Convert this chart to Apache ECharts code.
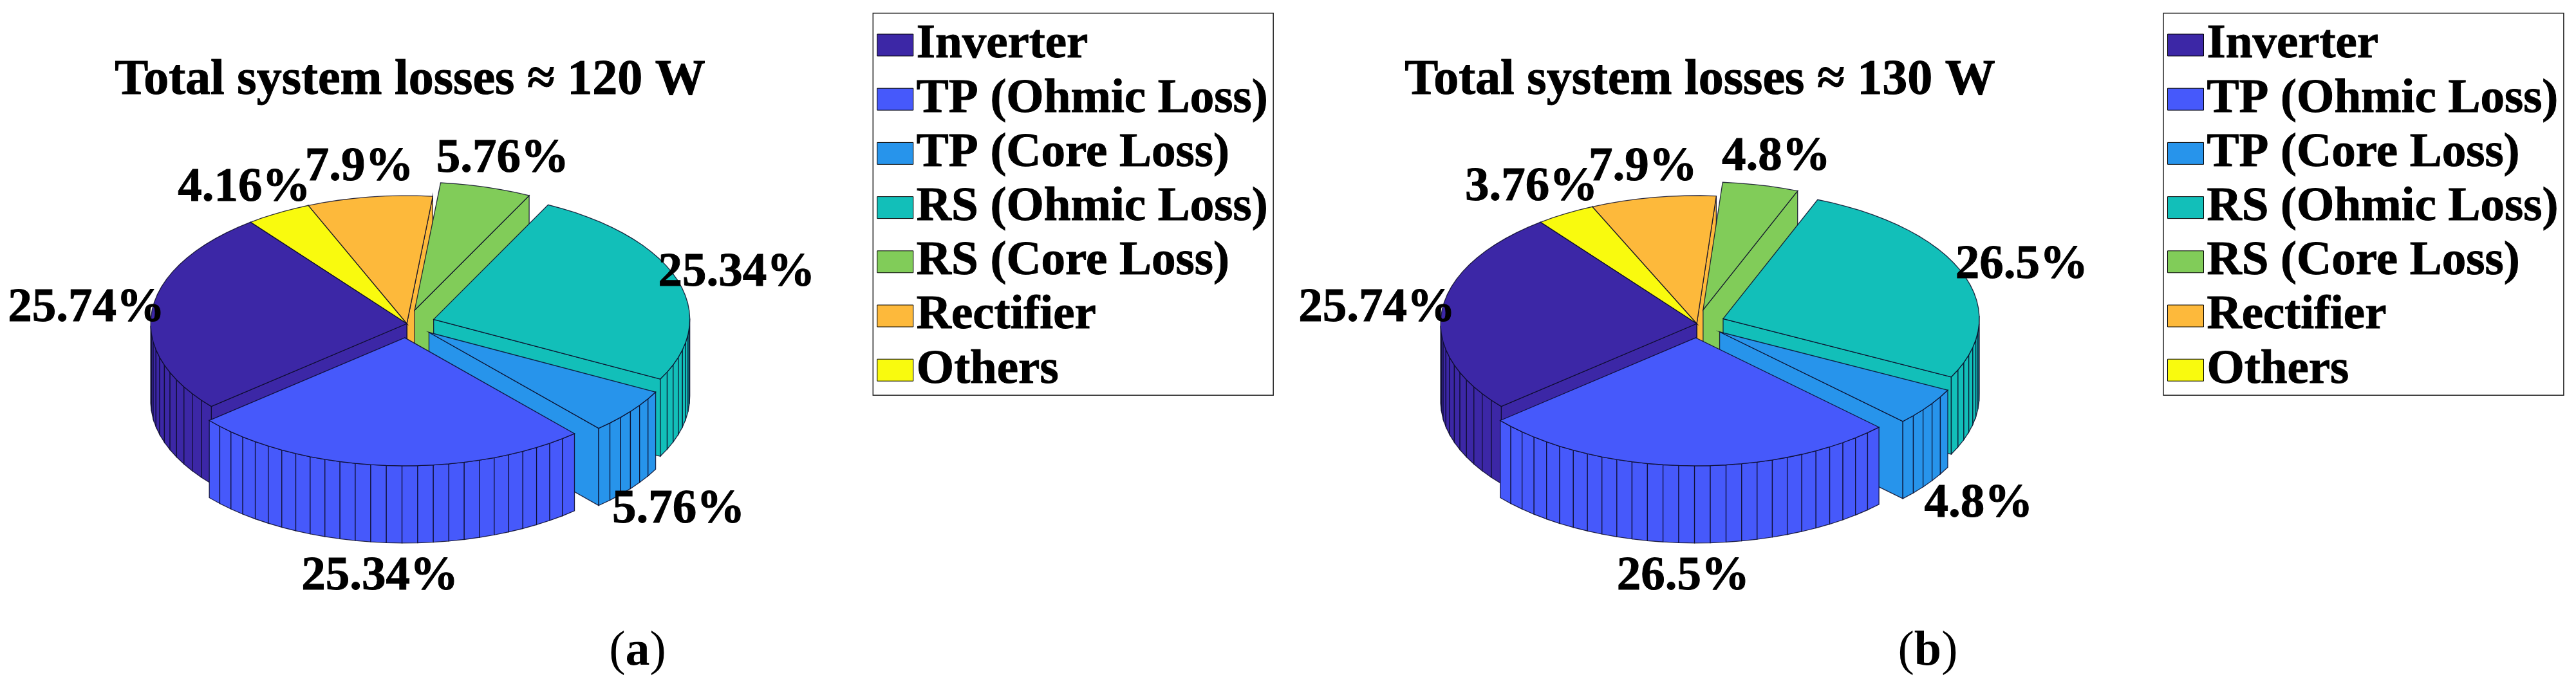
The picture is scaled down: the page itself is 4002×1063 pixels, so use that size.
<!DOCTYPE html>
<html>
<head>
<meta charset="utf-8">
<style>html,body{margin:0;padding:0;background:#fff}#c{width:4002px;height:1063px}</style>
<script src="https://cdn.jsdelivr.net/npm/echarts@6/dist/echarts.min.js"></script>
</head>
<body>
<div id="c"></div>
<script>
const categories = ['Inverter','TP (Ohmic Loss)','TP (Core Loss)','RS (Ohmic Loss)','RS (Core Loss)','Rectifier','Others'];
const valuesA = [25.74,25.34,5.76,25.34,5.76,7.9,4.16];
const valuesB = [25.74,26.5,4.8,26.5,4.8,7.9,3.76];
const exploded = [0,1,1,1,1,0,0];
const colors = ['#3C27A6','#4659FB','#2794EB','#12BFB9','#81CC59','#FDB93B','#F9FA0E'];
const titleA = 'Total system losses \u2248 120 W';
const titleB = 'Total system losses \u2248 130 W';

// painter's order of the slices, back to front
const drawOrder = [5,6,4,3,0,2,1];
const START_DEG = 127.6, EXPLODE = 0.11, WALL = 120/199, LABEL_R = 1.2;
const SERIF = '"Liberation Serif","Times New Roman",serif';
const LABEL_NUDGE_A = [[-23,2],[-4.5,134],[12,129],[16,1],[3.5,-5],[-4,-6],[-13,-4]];
const LABEL_NUDGE_B = [[-22,2],[-2.5,133.5],[14.5,129],[17,2],[6,-4],[-2,-7],[-12,-6]];

function sliceAngles(vals){
  const total = vals.reduce((a,b)=>a+b,0);
  let t = START_DEG, out = [];
  vals.forEach(v=>{
    const sweep = v/total*360;
    out.push({t0:t, t1:t+sweep, mid:t+sweep/2, facets:Math.max(1,Math.ceil(100*v/total - 1e-9))});
    t += sweep;
  });
  return out;
}
const rad = d=>d*Math.PI/180;

function makeSliceRender(vals, idx){
  const a = sliceAngles(vals)[idx];
  return function(params, api){
    const off = exploded[idx] ? EXPLODE : 0;
    const ox = off*Math.cos(rad(a.mid)), oy = off*Math.sin(rad(a.mid));
    const P = (deg,drop)=>api.coord([ox+Math.cos(rad(deg)), oy+Math.sin(rad(deg))-drop]);
    const C = drop=>api.coord([ox, oy-drop]);
    const line = {fill:colors[idx], stroke:'rgba(10,10,40,0.85)', lineWidth:1.3};
    const poly = pts=>({type:'polygon', shape:{points:pts}, style:line});
    const kids = [];
    const ang = [];
    for(let k=0;k<=a.facets;k++) ang.push(a.t0+(a.t1-a.t0)*k/a.facets);
    // radial walls that face the viewer
    if(Math.sin(rad(a.t0-90))<0) kids.push(poly([C(0),P(a.t0,0),P(a.t0,WALL),C(WALL)]));
    if(Math.sin(rad(a.t1+90))<0) kids.push(poly([C(0),P(a.t1,0),P(a.t1,WALL),C(WALL)]));
    // outer wall facets
    for(let k=0;k<a.facets;k++){
      if(Math.sin(rad((ang[k]+ang[k+1])/2))<0)
        kids.push(poly([P(ang[k],0),P(ang[k+1],0),P(ang[k+1],WALL),P(ang[k],WALL)]));
    }
    // top face
    kids.push(poly([C(0)].concat(ang.map(d=>P(d,0)))));
    return {type:'group', children:kids};
  };
}

function makeLabelRender(vals, nudge){
  const as = sliceAngles(vals);
  return function(params, api){
    const i = params.dataIndex, a = as[i];
    const r = LABEL_R + (exploded[i]?EXPLODE:0);
    const p = api.coord([r*Math.cos(rad(a.mid)), r*Math.sin(rad(a.mid))]);
    return {type:'text', x:p[0]+nudge[i][0], y:p[1]+nudge[i][1],
      style:{text:vals[i]+'%', fill:'#000', stroke:'#000', lineWidth:1, font:'bold 75px '+SERIF, align:'center', verticalAlign:'middle'}};
  };
}

function pieSeries(vals, gridIndex, nudge){
  const out = categories.map((name,i)=>({
    type:'custom', name, coordinateSystem:'cartesian2d', xAxisIndex:gridIndex, yAxisIndex:gridIndex,
    z: 2+drawOrder.indexOf(i), silent:true, animation:false,
    itemStyle:{color:colors[i]},
    data:[[vals[i]]], encode:{x:0,y:0},
    renderItem:makeSliceRender(vals,i)
  }));
  out.push({
    type:'custom', name:'labels', coordinateSystem:'cartesian2d', xAxisIndex:gridIndex, yAxisIndex:gridIndex,
    z:20, silent:true, animation:false,
    data:vals.map(v=>[v]), encode:{x:0,y:0},
    renderItem:makeLabelRender(vals,nudge)
  });
  return out;
}

function legendAt(left){
  const t = {fontFamily:SERIF,fontWeight:'bold',fontSize:75,color:'#000',textBorderColor:'#000',textBorderWidth:1};
  return {
    show:true, data:categories, orient:'vertical', left, top:20.5, selectedMode:false,
    icon:'rect', itemWidth:56, itemHeight:34, itemGap:8.2,
    padding:[11.5,8,1,6], borderColor:'#222', borderWidth:1.5, backgroundColor:'#fff',
    itemStyle:{borderColor:'#000',borderWidth:1},
    textStyle:t
  };
}
const titleStyle = {fontFamily:SERIF,fontWeight:'bold',fontSize:78,color:'#000',textBorderColor:'#000',textBorderWidth:1};
const capStyle = {rich:{r:{fontFamily:SERIF,fontWeight:'normal',fontSize:76,color:'#000'},b:{fontFamily:SERIF,fontWeight:'bold',fontSize:76,color:'#000'}}};
const axisOff = {type:'value',min:-1,max:1,show:false};
const RX=398, RY=199, CY=503, CXA=632, CXB=2636;

const option = {
  backgroundColor:'#fff', animation:false,
  title:[
    {text:titleA,left:CXA,top:82,textAlign:'center',textStyle:titleStyle},
    {text:titleB,left:CXB,top:82,textAlign:'center',textStyle:titleStyle},
    {text:'{r|(}{b|a}{r|)}',left:985.5,top:970,textAlign:'center',textStyle:capStyle},
    {text:'{r|(}{b|b}{r|)}',left:2990,top:970,textAlign:'center',textStyle:capStyle}
  ],
  grid:[
    {left:CXA-RX,width:2*RX,top:CY-RY,height:2*RY},
    {left:CXB-RX,width:2*RX,top:CY-RY,height:2*RY}
  ],
  xAxis:[Object.assign({gridIndex:0},axisOff),Object.assign({gridIndex:1},axisOff)],
  yAxis:[Object.assign({gridIndex:0},axisOff),Object.assign({gridIndex:1},axisOff)],
  legend:[legendAt(1356.3),legendAt(3361)],
  series:pieSeries(valuesA,0,LABEL_NUDGE_A).concat(pieSeries(valuesB,1,LABEL_NUDGE_B))
};
const chart = echarts.init(document.getElementById('c'),null,{renderer:'canvas'});
chart.setOption(option);
</script>
</body>
</html>
